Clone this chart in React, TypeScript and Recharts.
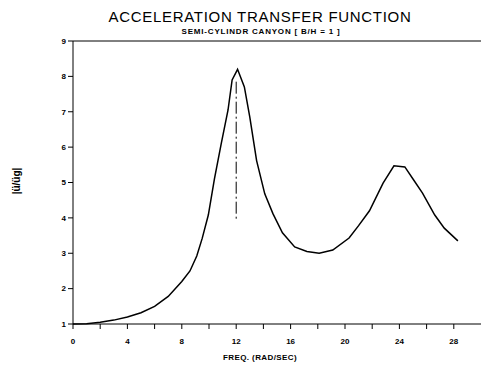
import { LineChart, Line, XAxis, YAxis, ReferenceLine } from "recharts";

const freq = [0, 1, 2, 3, 4, 5, 6, 7, 8, 8.6, 9.1, 9.5, 9.95, 10.4, 10.9, 11.4, 11.7, 12.1, 12.6, 13.0, 13.5, 14.1, 14.7, 15.4, 16.3, 17.2, 18.1, 19.1, 20.3, 21.0, 21.8, 22.8, 23.6, 24.4, 25.0, 25.7, 26.6, 27.3, 28.3];
const ratio = [1, 1.01, 1.05, 1.11, 1.2, 1.32, 1.5, 1.78, 2.2, 2.5, 2.92, 3.42, 4.08, 5.1, 6.1, 7.05, 7.9, 8.2, 7.7, 6.85, 5.62, 4.68, 4.12, 3.58, 3.18, 3.05, 3.0, 3.09, 3.43, 3.78, 4.2, 4.98, 5.47, 5.44, 5.1, 4.7, 4.08, 3.71, 3.35];

const xTicks = [0, 2, 4, 6, 8, 10, 12, 14, 16, 18, 20, 22, 24, 26, 28];
const yTicks = [1, 2, 3, 4, 5, 6, 7, 8, 9];

const data = freq.map((f, i) => ({ f, r: ratio[i] }));

const FONT = "'Liberation Sans', Arial, sans-serif";

function XTick({ x, y, payload }: any) {
  if (payload.value % 4 !== 0) return null;
  return (
    <text x={x} y={y + 13} textAnchor="middle" fontSize={8} fontWeight="bold" fontFamily={FONT} fill="#000">
      {payload.value}
    </text>
  );
}

export default function App() {
  return (
    <div style={{ position: "absolute", left: 0, top: 0, width: 481, height: 366, background: "#fff", overflow: "hidden" }}>
      <div style={{ position: "absolute", left: 0, width: 520, top: 8, textAlign: "center", fontFamily: FONT, fontSize: 15, letterSpacing: 0.7, lineHeight: "17px", color: "#000" }}>
        ACCELERATION TRANSFER FUNCTION
      </div>
      <div style={{ position: "absolute", left: 0, width: 522, top: 27, textAlign: "center", fontFamily: FONT, fontSize: 8, fontWeight: "bold", letterSpacing: 0.8, lineHeight: "10px", color: "#000" }}>
        SEMI-CYLINDR CANYON [ B/H = 1 ]
      </div>
      <div style={{ position: "absolute", left: 0, width: 520, top: 353, textAlign: "center", fontFamily: FONT, fontSize: 8, fontWeight: "bold", letterSpacing: 0.4, lineHeight: "10px", color: "#000" }}>
        FREQ. (RAD/SEC)
      </div>
      <div style={{ position: "absolute", left: -13, width: 60, top: 175, textAlign: "center", transform: "rotate(-90deg)", fontFamily: FONT, fontSize: 10, fontWeight: "bold", lineHeight: "12px", color: "#000" }}>
        |ü/üg|
      </div>
      <LineChart width={481} height={366} data={data} margin={{ top: 41, right: 0, left: 0, bottom: 0 }}>
        <XAxis
          dataKey="f"
          type="number"
          domain={[0, 30]}
          ticks={xTicks}
          interval={0}
          height={42}
          tickSize={5}
          stroke="#000"
          tick={<XTick />}
          allowDataOverflow
        />
        <YAxis
          type="number"
          domain={[1, 9]}
          ticks={yTicks}
          interval={0}
          width={73}
          tickSize={5}
          stroke="#000"
          tick={{ fontSize: 8, fontWeight: "bold", fontFamily: FONT, fill: "#000" }}
        />
        <ReferenceLine y={9} stroke="#000" />
        <ReferenceLine
          segment={[{ x: 12, y: 7.85 }, { x: 12, y: 3.97 }]}
          stroke="#000"
          strokeDasharray="12 3 2 3"
        />
        <Line type="linear" dataKey="r" stroke="#000" strokeWidth={1.5} dot={false} isAnimationActive={false} />
      </LineChart>
    </div>
  );
}
